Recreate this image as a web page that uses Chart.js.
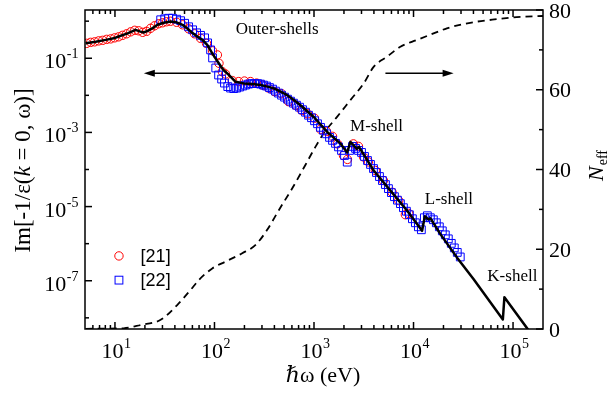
<!DOCTYPE html>
<html>
<head>
<meta charset="utf-8">
<script src="https://cdn.jsdelivr.net/npm/chart.js@4.4.1/dist/chart.umd.min.js"></script>
<style>
  html, body { margin: 0; padding: 0; background: #fff; }
  #wrap { width: 616px; height: 394px; position: relative; }
</style>
</head>
<body>
<div id="wrap"><canvas id="chart-elf"></canvas></div>
<script>
// ════════════════════════════════════════════════════════════
// Fonction de perte Im[-1/ε] + N_eff
// ════════════════════════════════════════════════════════════

// ── COURBE NOIRE (modèle) : énergie (eV) / ELF ──────────────
const lineE = [5.08, 6.40, 8.07, 9.70, 10.9, 13.4, 16.1, 17.7, 19.4, 21.3, 23.9, 26.8, 30.8, 36.2, 41.6,
  47.8, 53.7, 60.3, 67.6, 75.9, 85.3, 95.7, 110, 123, 140, 163, 197, 241, 290, 341, 395, 461, 538, 623,
  731, 995, 1357, 1846, 2155, 2323, 2699, 2830, 3980, 5860, 8630, 12190, 13000, 14100, 14800, 18620,
  27400, 40200, 79000, 81900, 141500];
const lineElf = [0.255, 0.280, 0.313, 0.344, 0.385, 0.470, 0.585, 0.532, 0.494, 0.550, 0.650, 0.798, 0.905,
  0.982, 0.933, 0.798, 0.622, 0.476, 0.378, 0.313, 0.222, 0.131, 0.0746, 0.0482, 0.0353, 0.0232, 0.0210,
  0.0201, 0.0189, 0.0172, 0.0154, 0.0126, 0.0101, 0.00764, 0.00542, 0.00261, 0.00103, 4.97e-4, 2.89e-4,
  5.56e-4, 3.60e-4, 4.07e-4, 9.39e-5, 2.70e-5, 7.74e-6, 2.22e-6, 5.50e-6, 4.5e-6, 4.8e-6, 1.81e-6,
  4.2e-7, 1.1e-7, 9e-9, 3.61e-8, 4.82e-9];

// ── CERCLES ROUGES [21] ─────────────────────────────────────
const red21E = [5.20, 5.70, 6.25, 6.86, 7.53, 8.26, 9.06, 9.94, 10.9, 11.9, 13.1, 14.4, 15.8, 17.3, 19.0,
  20.8, 22.8, 25.0, 27.5, 30.1, 33.0, 36.2, 41.6, 47.8, 55.0, 63.1, 72.5, 83.2, 95.6, 107, 111, 120, 129,
  151, 175, 200, 230, 265, 304, 349, 401, 472, 555, 653, 750, 861, 1012, 1163, 1336, 1535, 1722, 1977,
  2168, 2489, 2797, 3141, 3525, 4142, 4981, 6092, 7100, 8283, 8941];
const red21Elf = [0.252, 0.268, 0.277, 0.294, 0.304, 0.323, 0.333, 0.355, 0.378, 0.415, 0.456, 0.516, 0.567,
  0.550, 0.500, 0.532, 0.642, 0.750, 0.851, 0.905, 0.964, 0.994, 0.933, 0.798, 0.622, 0.456, 0.344, 0.252,
  0.158, 0.123, 0.0732, 0.0433, 0.0376, 0.0250, 0.0235, 0.0243, 0.0235, 0.0214, 0.0189, 0.0157, 0.0126,
  0.0111, 0.00675, 0.00542, 0.00397, 0.00319, 0.00241, 0.00121, 0.00107, 7.84e-4, 4.91e-4, 2.39e-4,
  1.87e-4, 4.91e-4, 4.20e-4, 2.18e-4, 1.60e-4, 9.39e-5, 5.04e-5, 2.43e-5, 1.45e-5, 6.03e-6, 6.54e-6];

// ── CARRÉS BLEUS [22] ───────────────────────────────────────
const blue22E = [28.8, 31.6, 34.6, 37.9, 41.6, 45.7, 50.1, 55.0, 60.3, 66.1, 72.5, 79.6, 85.3, 91.4, 95.7,
  103, 110, 118, 126, 136, 145, 156, 167, 179, 192, 205, 220, 236, 253, 271, 290, 311, 333, 357, 383, 410,
  440, 472, 506, 542, 581, 622, 667, 716, 767, 822, 881, 944, 1012, 1085, 1163, 1247, 1336, 1432, 1535,
  1645, 1763, 1890, 2026, 2158, 2275, 2439, 2614, 2801, 3002, 3217, 3448, 3695, 3960, 4244, 4548, 4874,
  5224, 5598, 5999, 6430, 6891, 7385, 7914, 8482, 9090, 9742, 10440, 11190, 11990, 12850, 13770, 14760,
  15820, 16960, 18170, 19470, 20870, 22370, 23970, 25690, 27530, 29500];
const blue22Elf = [1.09, 1.16, 1.20, 1.20, 1.13, 1.03, 0.877, 0.705, 0.585, 0.485, 0.415, 0.355, 0.260,
  0.168, 0.102, 0.0546, 0.0353, 0.0275, 0.0214, 0.0172, 0.0157, 0.0152, 0.0157, 0.0167, 0.0178, 0.0189,
  0.0201, 0.0207, 0.0207, 0.0207, 0.0201, 0.0189, 0.0178, 0.0162, 0.0147, 0.0130, 0.0115, 0.0101, 0.00893,
  0.00789, 0.00697, 0.00615, 0.00542, 0.00479, 0.00409, 0.00351, 0.00291, 0.00249, 0.00206, 0.00171,
  0.00137, 0.00114, 9.17e-4, 7.36e-4, 6.11e-4, 5.07e-4, 4.07e-4, 3.27e-4, 2.39e-4, 1.58e-4, 3.27e-4,
  4.20e-4, 3.71e-4, 3.27e-4, 2.89e-4, 2.25e-4, 1.75e-4, 1.37e-4, 1.06e-4, 8.30e-5, 6.46e-5, 5.04e-5,
  3.92e-5, 3.05e-5, 2.38e-5, 1.85e-5, 1.49e-5, 1.20e-5, 9.33e-6, 7.50e-6, 6.03e-6, 4.70e-6, 3.66e-6,
  2.85e-6, 2.37e-6, 5.00e-6, 5.66e-6, 5.00e-6, 4.42e-6, 3.66e-6, 2.85e-6, 2.22e-6, 1.73e-6, 1.35e-6,
  1.02e-6, 7.69e-7, 5.81e-7, 4.38e-7];

// ── N_eff (axe de droite, tirets) ───────────────────────────
const neffE = [5.08, 12.2, 18.1, 28.8, 42.2, 57.5, 69.7, 95, 129, 190, 259, 337, 443, 605, 822, 1030, 1254,
  1705, 2320, 3160, 3990, 5430, 7380, 10840, 14730, 21640, 37100, 68800, 109000, 200000];
const neffVal = [0.05, 0.18, 1.0, 2.3, 6.0, 9.8, 12.3, 15.2, 16.9, 19.0, 21.1, 24.8, 29.8, 35.3, 41.2, 45.6,
  49.1, 53.2, 57.4, 61.6, 65.8, 68.3, 70.8, 72.5, 73.8, 75.4, 76.8, 77.7, 78.2, 78.5];

// ── GRADUATIONS ─────────────────────────────────────────────
const xDecades = [10, 100, 1000, 10000, 100000];
const xDecadeExp = ['1', '2', '3', '4', '5'];
const xMantissas = [2, 3, 4, 5, 6, 7, 8, 9];
const yLabelled = [1e-1, 1e-3, 1e-5, 1e-7];
const yLabelExp = ['-1', '-3', '-5', '-7'];
const yMinor = [1, 1e-2, 1e-4, 1e-6, 1e-8];
const y2Major = [0, 20, 40, 60, 80];
const y2Minor = [10, 30, 50, 70];

// ── ANNOTATIONS (en coordonnées de données) ─────────────────
const shellLabels = ['Outer-shells', 'M-shell', 'L-shell', 'K-shell'];
const shellE = [427, 4245, 22650, 98400];
const shellElf = [0.585, 1.46e-3, 1.54e-5, 1.26e-7];

const SERIF = '"Liberation Serif", "DejaVu Serif", serif';
const SANS = '"Liberation Sans", Arial, sans-serif';

const pts = (xs, ys) => xs.map((x, i) => ({ x, y: ys[i] }));

// petit helper : "10" + exposant
function drawPow(ctx, exp, x, y, align) {
  ctx.font = '22px ' + SERIF;
  const wb = ctx.measureText('10').width;
  ctx.font = '14px ' + SERIF;
  const we = ctx.measureText(exp).width;
  const left = align === 'center' ? x - (wb + we) / 2 : x - wb - we;
  ctx.textAlign = 'left';
  ctx.textBaseline = 'alphabetic';
  ctx.font = '22px ' + SERIF;
  ctx.fillText('10', left, y);
  ctx.font = '14px ' + SERIF;
  ctx.fillText(exp, left + wb + 0.5, y - 10);
}

function arrow(ctx, x1, x2, y) {
  const dir = Math.sign(x2 - x1);
  ctx.beginPath();
  ctx.moveTo(x1, y);
  ctx.lineTo(x2 - dir * 8, y);
  ctx.stroke();
  ctx.beginPath();
  ctx.moveTo(x2, y);
  ctx.lineTo(x2 - dir * 11, y - 3.5);
  ctx.lineTo(x2 - dir * 11, y + 3.5);
  ctx.closePath();
  ctx.fill();
}

// ── PLUGIN : cadre, graduations internes, textes ───────────
const framePlugin = {
  id: 'frame',
  afterDraw(chart) {
    const { ctx, chartArea: a } = chart;
    const { x, y, y2 } = chart.scales;
    ctx.save();
    ctx.strokeStyle = '#000';
    ctx.fillStyle = '#000';
    ctx.lineWidth = 1.5;
    ctx.strokeRect(a.left, a.top, a.right - a.left, a.bottom - a.top);

    const seg = (x1, y1, x2, y2_) => { ctx.beginPath(); ctx.moveTo(x1, y1); ctx.lineTo(x2, y2_); ctx.stroke(); };

    // axe x (bas + haut)
    const xTicks = [];
    [1, 10, 100, 1000, 10000, 100000].forEach(d => xMantissas.forEach(m => xTicks.push(m * d)));
    xTicks.filter(v => v > x.min && v < x.max).forEach(v => {
      const px = x.getPixelForValue(v);
      seg(px, a.bottom, px, a.bottom - 4);
      seg(px, a.top, px, a.top + 4);
    });
    xDecades.forEach((v, i) => {
      const px = x.getPixelForValue(v);
      seg(px, a.bottom, px, a.bottom - 7);
      seg(px, a.top, px, a.top + 7);
      drawPow(ctx, xDecadeExp[i], px + 1, a.bottom + 29, 'center');
    });

    // axe y gauche (log)
    yMinor.forEach(v => {
      const py = y.getPixelForValue(v);
      seg(a.left, py, a.left + 4, py);
    });
    yLabelled.forEach((v, i) => {
      const py = y.getPixelForValue(v);
      seg(a.left, py, a.left + 7, py);
      drawPow(ctx, yLabelExp[i], a.left - 7, py + 10, 'right');
    });

    // axe y droit (N_eff)
    y2Minor.forEach(v => {
      const py = y2.getPixelForValue(v);
      seg(a.right, py, a.right - 4, py);
    });
    ctx.font = '22px ' + SERIF;
    ctx.textAlign = 'left';
    ctx.textBaseline = 'alphabetic';
    y2Major.forEach(v => {
      const py = y2.getPixelForValue(v);
      seg(a.right, py, a.right - 7, py);
      ctx.fillText(String(v), a.right + 6, py + 7.5);
    });

    // titre axe x
    ctx.textAlign = 'center';
    ctx.font = '22px ' + SERIF;
    ctx.fillText('\u210Fω (eV)', 323, 382);

    // titre axe y gauche (k en italique)
    ctx.save();
    ctx.translate(29.5, 170.5);
    ctx.rotate(-Math.PI / 2);
    const parts = [['Im[-1/ε(', ''], ['k', 'italic '], [' = 0, ω)]', '']];
    let total = 0;
    parts.forEach(p => { ctx.font = p[1] + '23px ' + SERIF; total += ctx.measureText(p[0]).width; });
    let cx = -total / 2;
    ctx.textAlign = 'left';
    parts.forEach(p => {
      ctx.font = p[1] + '23px ' + SERIF;
      ctx.fillText(p[0], cx, 0);
      cx += ctx.measureText(p[0]).width;
    });
    ctx.restore();

    // titre axe y droit : N_eff
    ctx.save();
    ctx.translate(603, 166);
    ctx.rotate(-Math.PI / 2);
    ctx.textAlign = 'left';
    ctx.font = 'italic 22px ' + SERIF;
    const wN = ctx.measureText('N').width;
    ctx.font = '14px ' + SERIF;
    const wS = ctx.measureText('eff').width;
    ctx.font = 'italic 22px ' + SERIF;
    ctx.fillText('N', -(wN + wS) / 2, 0);
    ctx.font = '14px ' + SERIF;
    ctx.fillText('eff', -(wN + wS) / 2 + wN + 1, 4);
    ctx.restore();

    // étiquettes des couches
    ctx.font = '17px ' + SERIF;
    ctx.textAlign = 'center';
    ctx.textBaseline = 'middle';
    shellLabels.forEach((t, i) => {
      ctx.fillText(t, x.getPixelForValue(shellE[i]), y.getPixelForValue(shellElf[i]));
    });

    // flèches
    ctx.lineWidth = 1.5;
    const ay = y.getPixelForValue(0.0392);
    arrow(ctx, x.getPixelForValue(91.4), x.getPixelForValue(19.5), ay);
    arrow(ctx, x.getPixelForValue(5220), x.getPixelForValue(25300), ay);

    // légende
    const lx = x.getPixelForValue(10.97);
    const tx = x.getPixelForValue(18.1);
    const ly1 = y.getPixelForValue(4.67e-7);
    const ly2 = y.getPixelForValue(1.04e-7);
    ctx.lineWidth = 1;
    ctx.strokeStyle = '#ff0000';
    ctx.beginPath(); ctx.arc(lx, ly1, 4.2, 0, Math.PI * 2); ctx.stroke();
    ctx.strokeStyle = '#0000ff';
    ctx.strokeRect(lx - 3.9, ly2 - 3.9, 7.8, 7.8);
    ctx.fillStyle = '#000';
    ctx.font = '18px ' + SANS;
    ctx.textAlign = 'left';
    ctx.textBaseline = 'middle';
    ctx.fillText('[21]', tx, ly1 + 1);
    ctx.fillText('[22]', tx, ly2 + 1);
    ctx.restore();
  }
};

new Chart(document.getElementById('chart-elf').getContext('2d'), {
  type: 'scatter',
  data: {
    datasets: [
      {
        // lignes droites : garde les seuils M/L/K bien nets
        label: 'ELF', data: pts(lineE, lineElf), showLine: true,
        borderColor: '#000', borderWidth: 2.5, pointRadius: 0,
        tension: 0, borderJoinStyle: 'round', yAxisID: 'y', clip: 0
      },
      {
        label: '[22]', data: pts(blue22E, blue22Elf), yAxisID: 'y', clip: 0,
        pointStyle: 'rect', pointRadius: 5.5, pointBorderWidth: 1,
        pointBorderColor: '#0000ff', pointBackgroundColor: 'rgba(0,0,0,0)'
      },
      {
        label: '[21]', data: pts(red21E, red21Elf), yAxisID: 'y', clip: 0,
        pointStyle: 'circle', pointRadius: 4.2, pointBorderWidth: 1,
        pointBorderColor: '#ff0000', pointBackgroundColor: 'rgba(0,0,0,0)'
      },
      {
        label: 'Neff', data: pts(neffE, neffVal), showLine: true, yAxisID: 'y2',
        borderColor: '#000', borderWidth: 1.8, borderDash: [7, 5], pointRadius: 0,
        cubicInterpolationMode: 'monotone', clip: 0
      }
    ]
  },
  options: {
    responsive: true,
    maintainAspectRatio: false,
    animation: false,
    devicePixelRatio: 1,
    events: [],
    layout: { padding: { left: 85, top: 10, right: 73, bottom: 65 } },
    plugins: { legend: { display: false }, tooltip: { enabled: false } },
    scales: {
      x: { type: 'logarithmic', min: 5, max: 2e5, display: false },
      y: { type: 'logarithmic', min: 5e-9, max: 2, display: false },
      y2: { type: 'linear', min: 0, max: 80, display: false, position: 'right' }
    }
  },
  plugins: [framePlugin]
});
</script>
</body>
</html>
